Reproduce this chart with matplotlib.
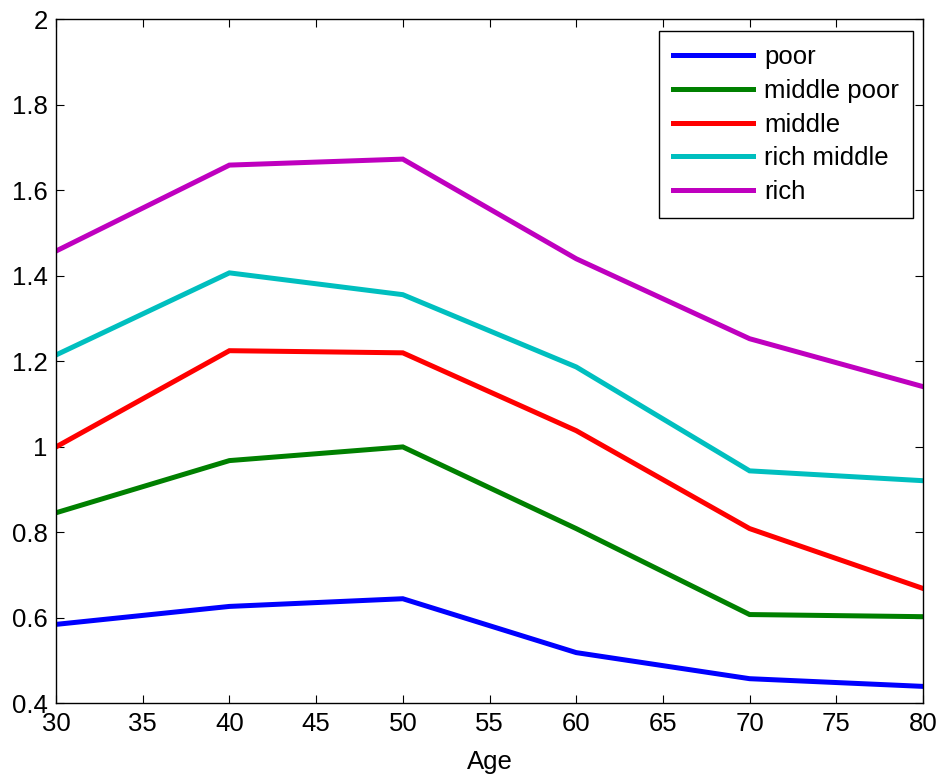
import matplotlib
matplotlib.use("Agg")
import matplotlib.pyplot as plt

plt.rcParams['font.family'] = ['Liberation Sans', 'DejaVu Sans']

ages = [30, 40, 50, 60, 70, 80]
poor = [0.585, 0.627, 0.645, 0.519, 0.458, 0.440]
middle_poor = [0.846, 0.968, 1.000, 0.809, 0.608, 0.603]
middle = [1.000, 1.225, 1.220, 1.038, 0.809, 0.669]
rich_middle = [1.215, 1.407, 1.356, 1.187, 0.944, 0.921]
rich = [1.458, 1.659, 1.673, 1.440, 1.253, 1.141]

series_names = ['poor', 'middle poor', 'middle', 'rich middle', 'rich']
series_colors = ['#0000ff', '#008000', '#ff0000', '#00bfbf', '#bf00bf']
x_ticks = [30, 35, 40, 45, 50, 55, 60, 65, 70, 75, 80]
y_ticks = [0.4, 0.6, 0.8, 1.0, 1.2, 1.4, 1.6, 1.8, 2.0]
y_tick_labels = ['0.4', '0.6', '0.8', '1', '1.2', '1.4', '1.6', '1.8', '2']

fig = plt.figure(figsize=(9.43, 7.77), dpi=100)
ax = fig.add_axes([0.0594, 0.0946, 0.9194, 0.8806])

for vals, name, col in zip([poor, middle_poor, middle, rich_middle, rich], series_names, series_colors):
    ax.plot(ages, vals, color=col, linewidth=3.6, label=name, solid_joinstyle='miter')

ax.set_xlim(30, 80)
ax.set_ylim(0.4, 2)
ax.set_xticks(x_ticks)
ax.set_yticks(y_ticks)
ax.set_yticklabels(y_tick_labels)
ax.tick_params(direction='in', length=6, width=0.8, labelsize=18.5, top=True, right=True, pad=6)
ax.set_xlabel('Age', fontsize=18.5, labelpad=10)
for sp in ax.spines.values():
    sp.set_linewidth(1.0)

leg = ax.legend(loc='upper right', bbox_to_anchor=(0.9885, 0.983), fontsize=18.5, frameon=True, fancybox=False,
                edgecolor='black', framealpha=1, handlelength=3.1, handletextpad=0.43, labelspacing=0.38,
                borderpad=0.55, borderaxespad=0.0)
leg.get_frame().set_linewidth(1.0)

fig.savefig('out.png', dpi=100, facecolor='white')
